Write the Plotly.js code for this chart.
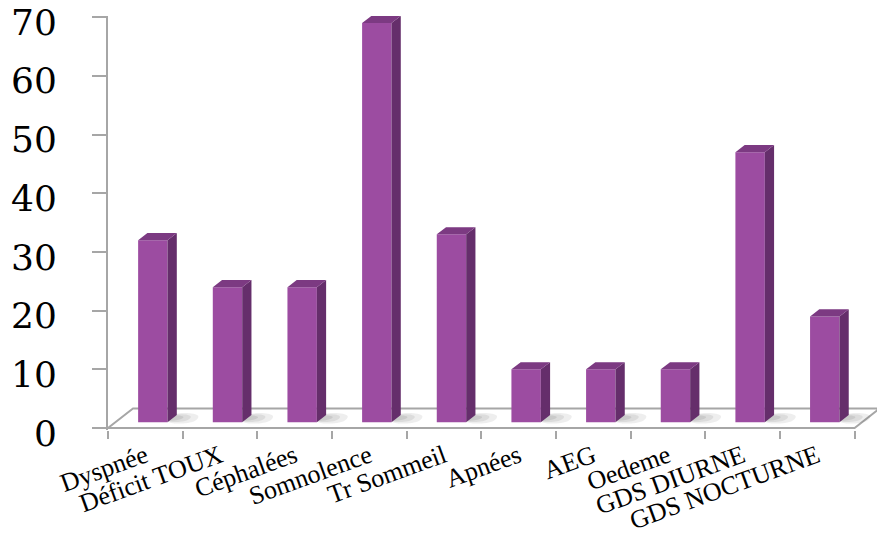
<!DOCTYPE html>
<html>
<head>
<meta charset="utf-8">
<script src="https://cdn.plot.ly/plotly-3.0.1.min.js"></script>
<style>
  html, body { margin: 0; padding: 0; background: #ffffff; }
  #chart { width: 877px; height: 541px; }
</style>
</head>
<body>
<div id="chart"></div>
<script>
// Symptoms and their counts
const categories = ['Dyspnée', 'Déficit TOUX', 'Céphalées', 'Somnolence', 'Tr Sommeil',
                    'Apnées', 'AEG', 'Oedeme', 'GDS DIURNE', 'GDS NOCTURNE'];
const values = [31, 23, 23, 68, 32, 9, 9, 9, 46, 18];
const yTicks = [0, 10, 20, 30, 40, 50, 60, 70];

// Oblique projection of the 3D columns, expressed in axis units
const DEPTH_X = 0.335;   // full floor depth, horizontal shift
const DEPTH_Y = 3.3;     // full floor depth, vertical shift
const FRONT = 0.3;       // column front face depth (fraction of floor)
const BACK = 0.67;       // column back face depth
const BAR_W = 0.394;

const xs = categories.map((_, i) => i);
const baseY = FRONT * DEPTH_Y;
const offX = -BAR_W / 2 + FRONT * DEPTH_X;
const ddx = (BACK - FRONT) * DEPTH_X;
const ddy = (BACK - FRONT) * DEPTH_Y;

const COL_FRONT = '#9c4ca1';
const COL_SIDE = '#652e6b';
const COL_TOP = '#7c3a82';
const AXIS_GREY = '#a6a6a6';

function faceTrace(xArr, yArr, color) {
  return {
    type: 'scatter', mode: 'lines', hoverinfo: 'skip', showlegend: false,
    x: xArr, y: yArr, fill: 'toself', fillcolor: color, line: { width: 0 }
  };
}

// floor plane outline
const floor = {
  type: 'scatter', mode: 'lines', hoverinfo: 'skip', showlegend: false,
  x: [-0.5, 9.5, 9.5 + DEPTH_X, -0.5 + DEPTH_X, -0.5],
  y: [0, 0, DEPTH_Y, DEPTH_Y, 0],
  line: { color: AXIS_GREY, width: 2 }
};

// soft shadows cast on the floor, right of each column
const shadowLayers = [0.09, 0.1, 0.12].map((op, k) => {
  const sx = [], sy = [];
  const grow = [1.0, 0.72, 0.45][k];
  const shrink = [0, 0.25, 0.5][k];
  xs.forEach(i => {
    const xr = i + offX + BAR_W + 0.01;
    const x1 = xr + 0.36 * grow;
    const yA = baseY + 0.1 + shrink * 0.5, yB = baseY + ddy - shrink * 0.4;
    sx.push(xr, x1, x1 + 0.04, xr + 0.06, xr, null);
    sy.push(yA, yA + 0.15, yB - 0.15, yB, yA, null);
  });
  return {
    type: 'scatter', mode: 'lines', hoverinfo: 'skip', showlegend: false,
    x: sx, y: sy, fill: 'toself', fillcolor: 'rgba(70,70,70,' + op + ')',
    line: { width: 0, shape: 'spline', smoothing: 1.3 }
  };
});

// column faces: front, side and top, each from the column's value
const frontX = [], frontY = [], sideX = [], sideY = [], topX = [], topY = [];
xs.forEach((i, k) => {
  const v = values[k];
  const xl = i + offX, xr = xl + BAR_W;
  const t = baseY + v;
  frontX.push(xl, xr, xr, xl, xl, null);
  frontY.push(baseY, baseY, t, t, baseY, null);
  sideX.push(xr, xr + ddx, xr + ddx, xr, xr, null);
  sideY.push(baseY, baseY + ddy, t + ddy, t, baseY, null);
  topX.push(xl, xr, xr + ddx, xl + ddx, xl, null);
  topY.push(t, t, t + ddy, t + ddy, t, null);
});
const fronts = faceTrace(frontX, frontY, COL_FRONT);
const sides = faceTrace(sideX, sideY, COL_SIDE);
const tops = faceTrace(topX, topY, COL_TOP);

// carrier for the boundary tick axis
const tickCarrier = {
  type: 'scatter', mode: 'markers', x: [0], y: [null], xaxis: 'x2',
  hoverinfo: 'skip', showlegend: false
};

const layout = {
  width: 877, height: 541,
  margin: { l: 108, r: 0, t: 16, b: 111, autoexpand: false },
  paper_bgcolor: '#ffffff', plot_bgcolor: 'rgba(0,0,0,0)',
  showlegend: false,
  xaxis: {
    type: 'linear', range: [-0.5, 9.8],
    tickvals: xs, ticktext: categories, ticks: '',
    tickangle: -20, ticklabelstandoff: 5,
    tickfont: { family: 'Liberation Serif', size: 26, color: '#000000' },
    showgrid: false, zeroline: false, showline: false, automargin: false
  },
  xaxis2: {
    type: 'linear', range: [-0.5, 9.8], overlaying: 'x', anchor: 'y', side: 'bottom',
    tickvals: [-0.5, 0.5, 1.5, 2.5, 3.5, 4.5, 5.5, 6.5, 7.5, 8.5, 9.5],
    ticks: 'outside', ticklen: 8, tickwidth: 2, tickcolor: AXIS_GREY,
    showticklabels: false, showgrid: false, zeroline: false, showline: false
  },
  yaxis: {
    range: [-0.35, 70.2], tickvals: yTicks,
    ticks: 'outside', ticklen: 14, tickwidth: 2, tickcolor: AXIS_GREY,
    showline: true, linecolor: AXIS_GREY, linewidth: 2,
    ticklabelstandoff: 28, ticklabelshift: 5,
    tickfont: { family: 'DejaVu Serif', size: 36, color: '#000000' },
    showgrid: false, zeroline: false, automargin: false
  }
};

Plotly.newPlot('chart', [floor, ...shadowLayers, fronts, sides, tops, tickCarrier], layout,
  { staticPlot: true, displayModeBar: false });
</script>
</body>
</html>
